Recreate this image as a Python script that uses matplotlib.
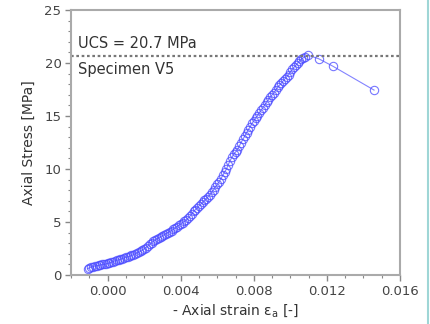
import numpy as np
import matplotlib
matplotlib.use('Agg')
import matplotlib.pyplot as plt
from matplotlib.ticker import MultipleLocator
from matplotlib.lines import Line2D

# Stress-strain readings, specimen V5 (strain [-], stress [MPa])
strain = [-0.0011, -0.0010, -0.0009, -0.0008, -0.0007, -0.0006, -0.0005, -0.0004,
          -0.0003, -0.0002, -0.0001, 0.0000, 0.0001, 0.0002, 0.0003, 0.0004,
          0.0005, 0.0006, 0.0007, 0.0008, 0.0009, 0.0010, 0.0011, 0.0012,
          0.0013, 0.0014, 0.0015, 0.0016, 0.0017, 0.0018, 0.0019, 0.0020,
          0.0021, 0.0022, 0.0023, 0.0024, 0.0025, 0.0026, 0.0027, 0.0028,
          0.0029, 0.0030, 0.0031, 0.0032, 0.0033, 0.0034, 0.0035, 0.0036,
          0.0037, 0.0038, 0.0039, 0.0040, 0.0041, 0.0042, 0.0043, 0.0044,
          0.0045, 0.0046, 0.0047, 0.0048, 0.0049, 0.0050, 0.0051, 0.0052,
          0.0053, 0.0054, 0.0055, 0.0056, 0.0057, 0.0058, 0.0059, 0.0060,
          0.0061, 0.0062, 0.0063, 0.0064, 0.0065, 0.0066, 0.0067, 0.0068,
          0.0069, 0.0070, 0.0071, 0.0072, 0.0073, 0.0074, 0.0075, 0.0076,
          0.0077, 0.0078, 0.0079, 0.0080, 0.0081, 0.0082, 0.0083, 0.0084,
          0.0085, 0.0086, 0.0087, 0.0088, 0.0089, 0.0090, 0.0091, 0.0092,
          0.0093, 0.0094, 0.0095, 0.0096, 0.0097, 0.0098, 0.0099, 0.0100,
          0.0101, 0.0102, 0.0103, 0.0104, 0.0105, 0.0106, 0.0107, 0.0108,
          0.01096, 0.01156, 0.01233, 0.01458]
stress = [0.60, 0.68, 0.75, 0.80, 0.85, 0.89, 0.92, 0.96,
          1.00, 1.02, 1.05, 1.10, 1.15, 1.22, 1.28, 1.34,
          1.40, 1.45, 1.50, 1.56, 1.62, 1.67, 1.72, 1.78,
          1.85, 1.92, 2.00, 2.07, 2.15, 2.25, 2.35, 2.47,
          2.60, 2.75, 2.90, 3.05, 3.20, 3.30, 3.40, 3.50,
          3.60, 3.70, 3.80, 3.90, 4.00, 4.10, 4.20, 4.32,
          4.45, 4.57, 4.70, 4.82, 4.95, 5.07, 5.20, 5.37,
          5.55, 5.78, 6.00, 6.17, 6.35, 6.52, 6.70, 6.87,
          7.05, 7.22, 7.40, 7.60, 7.80, 8.05, 8.30, 8.55,
          8.80, 9.10, 9.40, 9.70, 10.00, 10.40, 10.80, 11.10,
          11.40, 11.60, 11.80, 12.15, 12.50, 12.80, 13.10, 13.40,
          13.70, 14.00, 14.30, 14.55, 14.80, 15.05, 15.30, 15.55,
          15.80, 16.05, 16.30, 16.55, 16.80, 17.00, 17.20, 17.45,
          17.70, 17.90, 18.10, 18.30, 18.50, 18.70, 18.90, 19.15,
          19.40, 19.60, 19.80, 20.00, 20.20, 20.35, 20.50, 20.60,
          20.75, 20.40, 19.70, 17.45]
ucs = 20.7
specimen = 'V5'

fig = plt.figure(figsize=(4.31, 3.24), dpi=100)
ax = fig.add_axes([0.165, 0.151, 0.763, 0.818])

ax.plot(strain, stress, '-', color='#5a5aff', linewidth=0.8, alpha=0.75,
        marker='o', markersize=6, markerfacecolor='none',
        markeredgecolor='#4a4aff', markeredgewidth=0.8)
ax.axhline(ucs, color='#777777', linestyle=(0, (1.2, 1.2)), linewidth=1.6)

ax.text(0.022, 21.4, 'UCS = %.1f MPa' % ucs, transform=ax.get_yaxis_transform(),
        fontsize=10.5, color='#333333', va='baseline')
ax.text(0.022, 20.1, 'Specimen %s' % specimen, transform=ax.get_yaxis_transform(),
        fontsize=10.5, color='#333333', va='top')

ax.set_xlim(-0.002, 0.016)
ax.set_ylim(0, 25)
ax.xaxis.set_major_locator(MultipleLocator(0.004))
ax.xaxis.set_minor_locator(MultipleLocator(0.001))
ax.yaxis.set_major_locator(MultipleLocator(5))
ax.yaxis.set_minor_locator(MultipleLocator(1))
ax.xaxis.set_major_formatter(plt.FormatStrFormatter('%.3f'))

ax.tick_params(which='both', direction='out', colors='#888888',
               labelcolor='#444444', labelsize=9.5)
ax.tick_params(which='major', length=4, width=1, pad=3)
ax.tick_params(which='minor', length=2.5, width=0.8)
for s in ax.spines.values():
    s.set_color('#aaaaaa')
    s.set_linewidth(1.5)

ax.set_xlabel('- Axial strain ε$_\\mathregular{a}$ [-]', fontsize=10,
              color='#333333', labelpad=3)
ax.set_ylabel('Axial Stress [MPa]', fontsize=10, color='#333333',
              labelpad=6)

# teal frame edge on the right
fig.add_artist(Line2D([0.992, 0.992], [0, 1], transform=fig.transFigure,
                      color='#9fd6d6', linewidth=1.5))

fig.savefig('out.png', dpi=100)
